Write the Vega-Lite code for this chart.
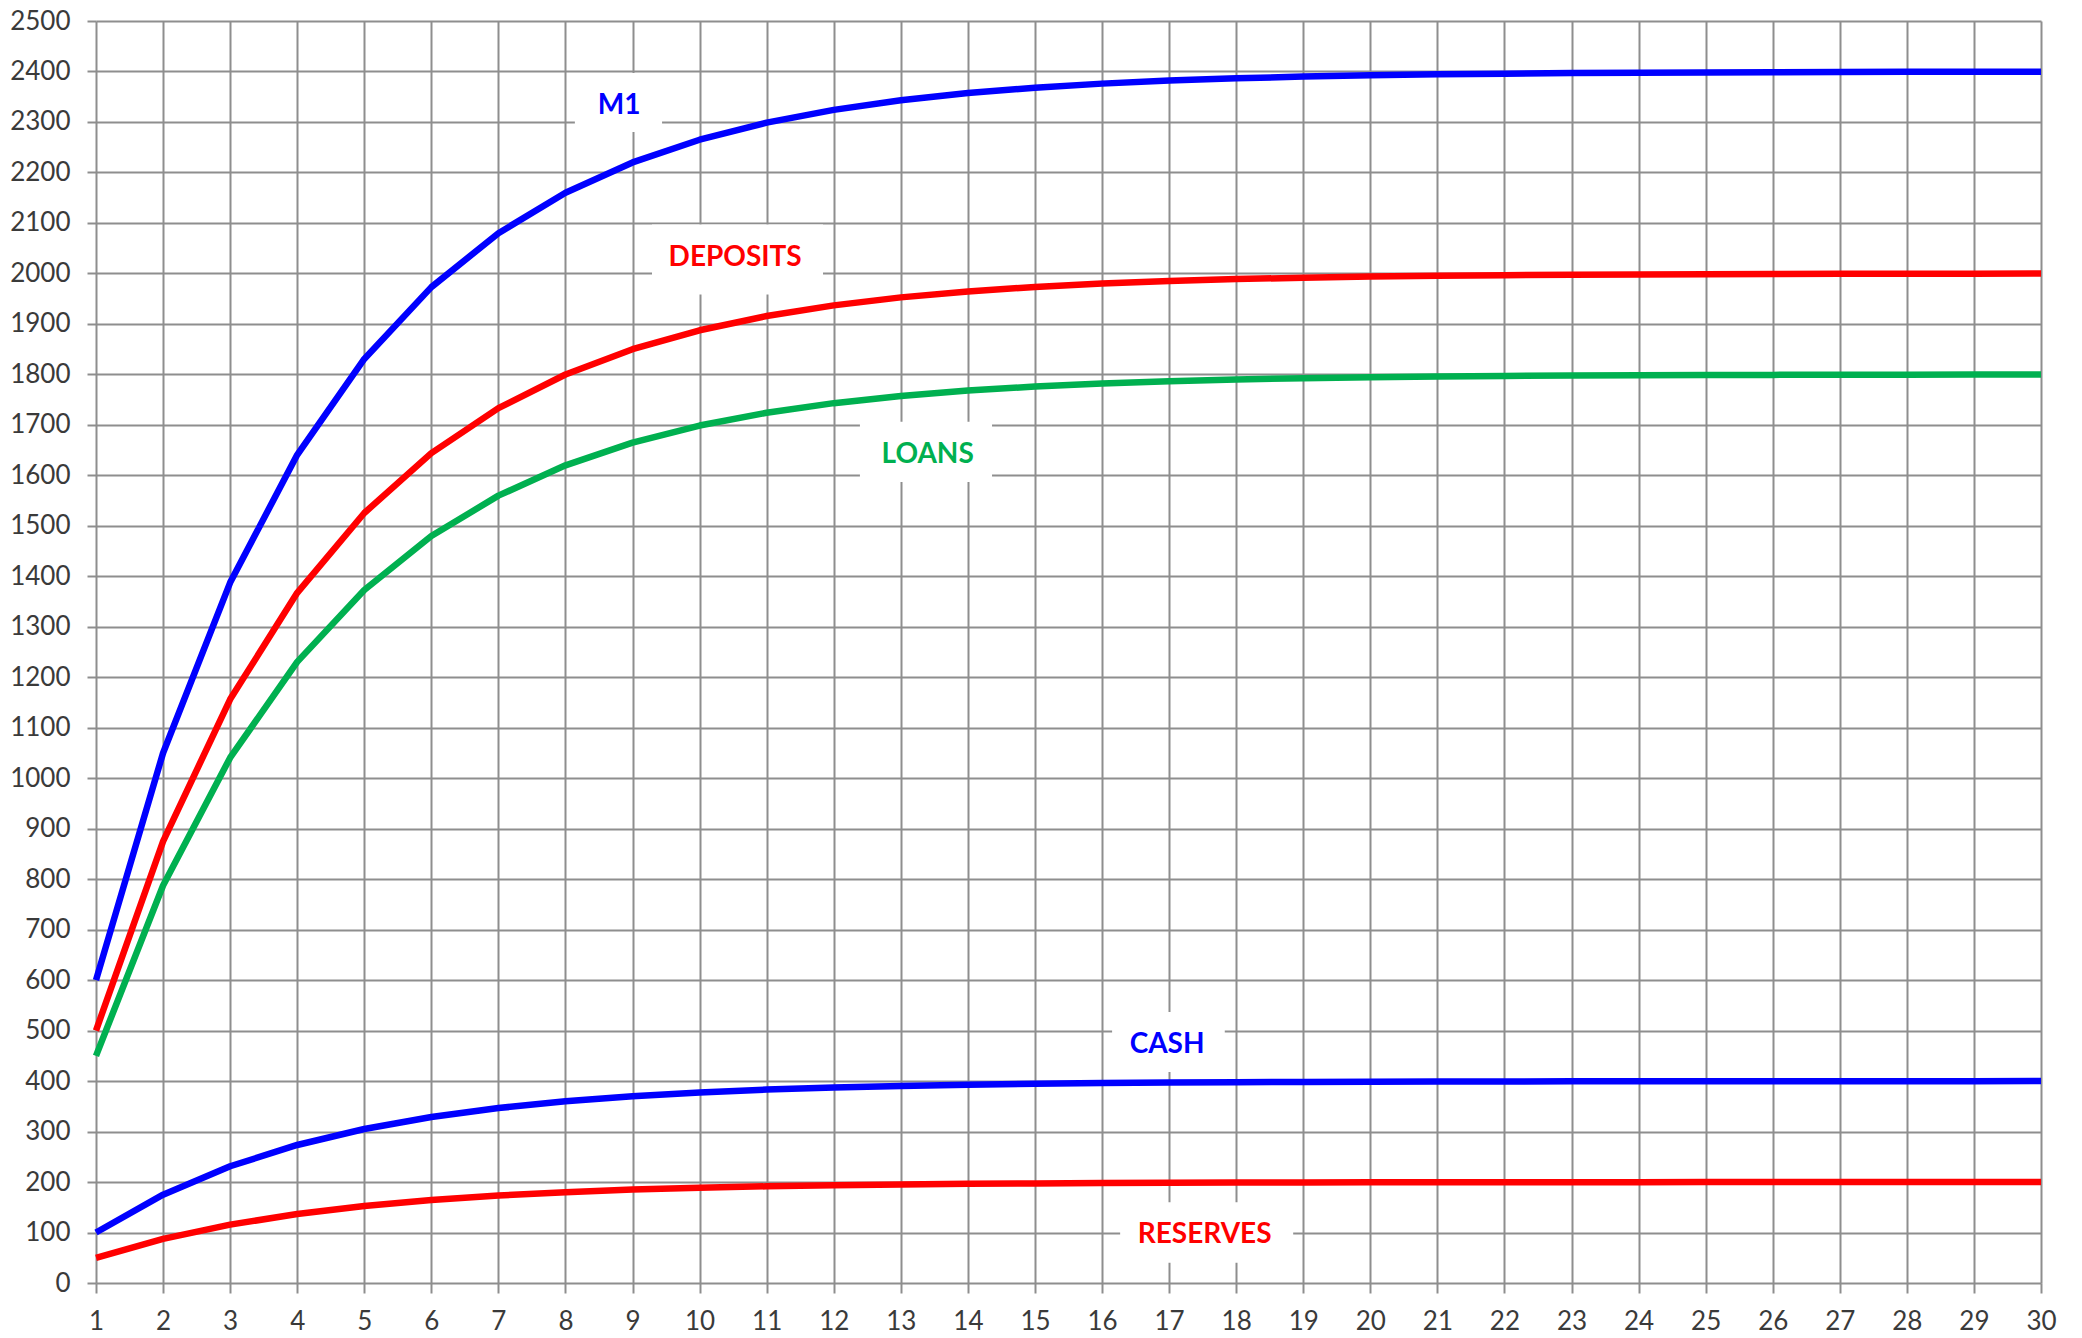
{
  "$schema": "https://vega.github.io/schema/vega-lite/v6.json",
  "autosize": "none",
  "width": 1945,
  "height": 1262,
  "padding": {"left": 96, "top": 21, "right": 41, "bottom": 55},
  "background": "white",
  "config": {
    "view": {"stroke": null},
    "axis": {
      "domain": false,
      "gridColor": "#8e8e8e",
      "gridWidth": 2,
      "gridOpacity": 1,
      "tickColor": "#8e8e8e",
      "tickWidth": 2,
      "labelFont": "Lato",
      "labelFontSize": 26,
      "labelColor": "#3a3a3a",
      "title": null
    }
  },
  "datasets": {
    "series": [
      {"t": 1, "M1": 600, "DEPOSITS": 500, "LOANS": 450, "CASH": 100, "RESERVES": 50},
      {"t": 2, "M1": 1050, "DEPOSITS": 875, "LOANS": 787.5, "CASH": 175, "RESERVES": 87.5},
      {"t": 3, "M1": 1387.5, "DEPOSITS": 1156.25, "LOANS": 1040.63, "CASH": 231.25, "RESERVES": 115.63},
      {"t": 4, "M1": 1640.63, "DEPOSITS": 1367.19, "LOANS": 1230.47, "CASH": 273.44, "RESERVES": 136.72},
      {"t": 5, "M1": 1830.47, "DEPOSITS": 1525.39, "LOANS": 1372.85, "CASH": 305.08, "RESERVES": 152.54},
      {"t": 6, "M1": 1972.85, "DEPOSITS": 1644.04, "LOANS": 1479.64, "CASH": 328.81, "RESERVES": 164.4},
      {"t": 7, "M1": 2079.64, "DEPOSITS": 1733.03, "LOANS": 1559.73, "CASH": 346.61, "RESERVES": 173.3},
      {"t": 8, "M1": 2159.73, "DEPOSITS": 1799.77, "LOANS": 1619.8, "CASH": 359.95, "RESERVES": 179.98},
      {"t": 9, "M1": 2219.8, "DEPOSITS": 1849.83, "LOANS": 1664.85, "CASH": 369.97, "RESERVES": 184.98},
      {"t": 10, "M1": 2264.85, "DEPOSITS": 1887.37, "LOANS": 1698.64, "CASH": 377.47, "RESERVES": 188.74},
      {"t": 11, "M1": 2298.64, "DEPOSITS": 1915.53, "LOANS": 1723.98, "CASH": 383.11, "RESERVES": 191.55},
      {"t": 12, "M1": 2323.98, "DEPOSITS": 1936.65, "LOANS": 1742.98, "CASH": 387.33, "RESERVES": 193.67},
      {"t": 13, "M1": 2342.98, "DEPOSITS": 1952.49, "LOANS": 1757.24, "CASH": 390.5, "RESERVES": 195.25},
      {"t": 14, "M1": 2357.24, "DEPOSITS": 1964.36, "LOANS": 1767.93, "CASH": 392.87, "RESERVES": 196.44},
      {"t": 15, "M1": 2367.93, "DEPOSITS": 1973.27, "LOANS": 1775.95, "CASH": 394.65, "RESERVES": 197.33},
      {"t": 16, "M1": 2375.95, "DEPOSITS": 1979.95, "LOANS": 1781.96, "CASH": 395.99, "RESERVES": 198},
      {"t": 17, "M1": 2381.96, "DEPOSITS": 1984.97, "LOANS": 1786.47, "CASH": 396.99, "RESERVES": 198.5},
      {"t": 18, "M1": 2386.47, "DEPOSITS": 1988.72, "LOANS": 1789.85, "CASH": 397.74, "RESERVES": 198.87},
      {"t": 19, "M1": 2389.85, "DEPOSITS": 1991.54, "LOANS": 1792.39, "CASH": 398.31, "RESERVES": 199.15},
      {"t": 20, "M1": 2392.39, "DEPOSITS": 1993.66, "LOANS": 1794.29, "CASH": 398.73, "RESERVES": 199.37},
      {"t": 21, "M1": 2394.29, "DEPOSITS": 1995.24, "LOANS": 1795.72, "CASH": 399.05, "RESERVES": 199.52},
      {"t": 22, "M1": 2395.72, "DEPOSITS": 1996.43, "LOANS": 1796.79, "CASH": 399.29, "RESERVES": 199.64},
      {"t": 23, "M1": 2396.79, "DEPOSITS": 1997.32, "LOANS": 1797.59, "CASH": 399.46, "RESERVES": 199.73},
      {"t": 24, "M1": 2397.59, "DEPOSITS": 1997.99, "LOANS": 1798.19, "CASH": 399.6, "RESERVES": 199.8},
      {"t": 25, "M1": 2398.19, "DEPOSITS": 1998.5, "LOANS": 1798.65, "CASH": 399.7, "RESERVES": 199.85},
      {"t": 26, "M1": 2398.65, "DEPOSITS": 1998.87, "LOANS": 1798.98, "CASH": 399.77, "RESERVES": 199.89},
      {"t": 27, "M1": 2398.98, "DEPOSITS": 1999.15, "LOANS": 1799.24, "CASH": 399.83, "RESERVES": 199.92},
      {"t": 28, "M1": 2399.24, "DEPOSITS": 1999.37, "LOANS": 1799.43, "CASH": 399.87, "RESERVES": 199.94},
      {"t": 29, "M1": 2399.43, "DEPOSITS": 1999.52, "LOANS": 1799.57, "CASH": 399.9, "RESERVES": 199.95},
      {"t": 30, "M1": 2399.57, "DEPOSITS": 1999.64, "LOANS": 1799.68, "CASH": 399.93, "RESERVES": 199.96}
    ],
    "labels": [
      {"label": "M1", "lx": 8.8, "ly": 2337, "bx1": 8.14, "bx2": 9.44, "by1": 2280, "by2": 2397},
      {"label": "DEPOSITS", "lx": 10.53, "ly": 2036, "bx1": 9.29, "bx2": 11.84, "by1": 1958, "by2": 2097},
      {"label": "LOANS", "lx": 13.4, "ly": 1646, "bx1": 12.39, "bx2": 14.36, "by1": 1587, "by2": 1706},
      {"label": "CASH", "lx": 16.97, "ly": 477, "bx1": 16.15, "bx2": 17.83, "by1": 418, "by2": 537},
      {"label": "RESERVES", "lx": 17.53, "ly": 101, "bx1": 16.27, "bx2": 18.85, "by1": 40, "by2": 160}
    ]
  },
  "layer": [
    {
      "data": {"name": "labels"},
      "mark": {"type": "rect", "fill": "white", "stroke": null},
      "encoding": {
        "x": {"field": "bx1", "type": "quantitative", "scale": {"domain": [1, 30], "nice": false, "zero": false},
          "axis": {"values": [1,2,3,4,5,6,7,8,9,10,11,12,13,14,15,16,17,18,19,20,21,22,23,24,25,26,27,28,29,30], "tickSize": 10, "labelPadding": 15, "labelFlush": false, "labelOverlap": false, "format": "d"}},
        "x2": {"field": "bx2"},
        "y": {"field": "by1", "type": "quantitative", "scale": {"domain": [0, 2500], "nice": false},
          "axis": {"values": [0,100,200,300,400,500,600,700,800,900,1000,1100,1200,1300,1400,1500,1600,1700,1800,1900,2000,2100,2200,2300,2400,2500], "tickSize": 9, "labelPadding": 17, "labelFlush": false, "labelOverlap": false, "format": "d"}},
        "y2": {"field": "by2"}
      }
    },
    {
      "data": {"name": "series"},
      "transform": [{"fold": ["M1", "DEPOSITS", "LOANS", "CASH", "RESERVES"], "as": ["s", "v"]}],
      "mark": {"type": "line", "strokeWidth": 6.5, "strokeJoin": "round", "strokeCap": "butt"},
      "encoding": {
        "x": {"field": "t", "type": "quantitative"},
        "y": {"field": "v", "type": "quantitative"},
        "detail": {"field": "s"},
        "color": {"field": "s", "type": "nominal",
          "scale": {"domain": ["M1", "DEPOSITS", "LOANS", "CASH", "RESERVES"], "range": ["#0000ff", "#ff0000", "#00b050", "#0000ff", "#ff0000"]},
          "legend": null}
      }
    },
    {
      "data": {"name": "labels"},
      "mark": {"type": "text", "font": "Lato", "fontWeight": "bold", "fontSize": 28, "align": "center", "baseline": "middle", "dy": 3},
      "encoding": {
        "x": {"field": "lx", "type": "quantitative"},
        "y": {"field": "ly", "type": "quantitative"},
        "text": {"field": "label"},
        "color": {"field": "label", "type": "nominal",
          "scale": {"domain": ["M1", "DEPOSITS", "LOANS", "CASH", "RESERVES"], "range": ["#0000ff", "#ff0000", "#00b050", "#0000ff", "#ff0000"]},
          "legend": null}
      }
    }
  ]
}
